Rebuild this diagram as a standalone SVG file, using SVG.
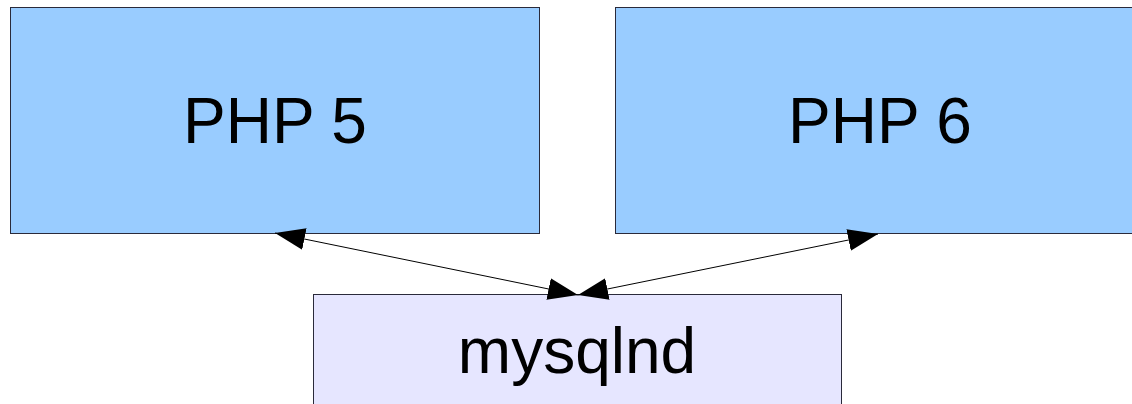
<svg xmlns="http://www.w3.org/2000/svg" width="1132" height="404" viewBox="0 0 1132 404">
<defs>
<style>
.php{fill:#99ccff;stroke:#2a2a3a;stroke-width:1}
.nd{fill:#e6e6ff;stroke:#2a2a3a;stroke-width:1}
.t{font-family:"Liberation Sans",Arial,sans-serif;font-size:64px;fill:#000;text-anchor:middle}
.c{stroke:#000;stroke-width:1;fill:none;marker-start:url(#ah);marker-end:url(#ah)}
</style>
<marker id="ah" markerUnits="userSpaceOnUse" markerWidth="32" markerHeight="24" refX="30" refY="11" orient="auto-start-reverse" viewBox="0 0 32 24">
<path d="M0,0 L30,11 L0,22 Z" fill="#000"/>
</marker>
</defs>
<rect width="1132" height="404" fill="#fff"/>
<g id="php5"><rect class="php" x="10.5" y="7.5" width="529" height="226"/><text class="t" x="275" y="143">PHP 5</text></g>
<g id="php6"><rect class="php" x="615.5" y="7.5" width="530" height="226"/><text class="t" x="880" y="143">PHP 6</text></g>
<g id="mysqlnd"><rect class="nd" x="313.5" y="294.5" width="528" height="130"/><text class="t" x="577" y="373">mysqlnd</text></g>
<g id="connectors">
<line class="c" x1="275" y1="233" x2="578" y2="295"/>
<line class="c" x1="578" y1="295" x2="878" y2="234"/>
</g>
</svg>
